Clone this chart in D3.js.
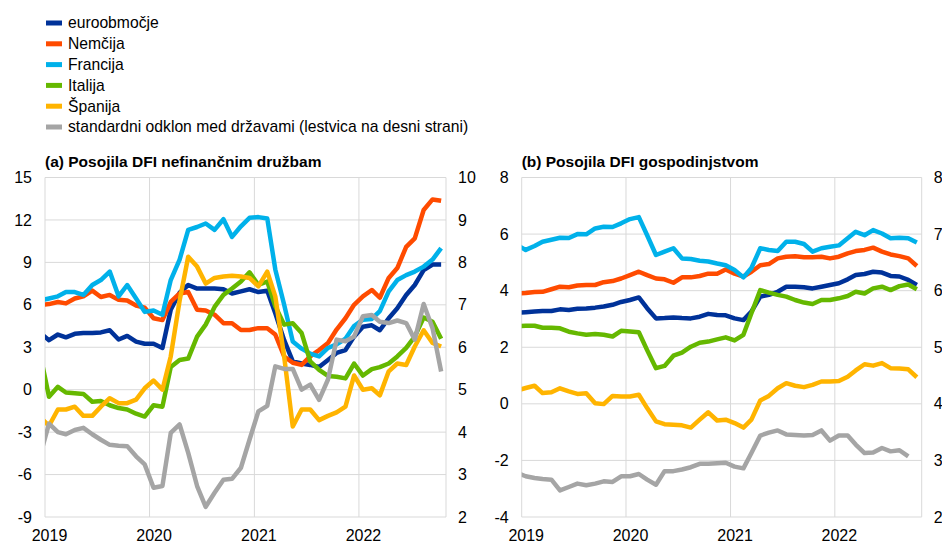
<!DOCTYPE html>
<html>
<head>
<meta charset="utf-8">
<script src="https://cdn.jsdelivr.net/npm/d3@7"></script>
<style>
    body { margin: 0; background: #fff; }
    svg { display: block; font-family: "Liberation Sans", Arial, sans-serif; }
</style>
</head>
<body>
<div id="chart"></div>
<script>
// monthly observations, Dec 2018 .. Oct 2022 (the first one falls just left of the axis)
const months = d3.timeMonth.range(new Date(2018, 11, 1), new Date(2022, 10, 1));
const years = [2019, 2020, 2021, 2022];

const legendLabels = ['euroobmočje', 'Nemčija', 'Francija', 'Italija', 'Španija',
    'standardni odklon med državami (lestvica na desni strani)'];
const colors = ['#003299', '#ff4b00', '#00b1ea', '#65b800', '#ffb400', '#a5a5a5'];

// (a) loans to non-financial corporations, % y/y
const nfcEuro = [4.0, 3.5, 3.9, 3.7, 3.95, 4.0, 4.0, 4.05, 4.2, 3.55, 3.8, 3.4, 3.25, 3.25, 2.95, 5.65,
    6.85, 7.4, 7.15, 7.15, 7.15, 7.1, 6.8, 6.95, 7.1, 6.9, 7.0, 5.4, 3.5, 2.0, 1.85, 1.75, 1.6, 2.1,
    2.6, 2.8, 3.75, 4.45, 4.55, 4.2, 5.05, 5.75, 6.7, 7.4, 8.45, 8.85, 8.85];
const nfcDe = [6.0, 6.05, 6.2, 6.1, 6.45, 6.6, 7.0, 6.55, 6.7, 6.35, 6.3, 5.95, 5.8, 5.05, 4.92, 6.2,
    6.8, 6.9, 5.65, 5.6, 5.3, 4.7, 4.7, 4.22, 4.22, 4.35, 4.35, 3.9, 2.35, 1.9, 1.75, 2.35, 2.8, 3.3,
    4.25, 5.05, 6.0, 6.6, 7.05, 6.5, 7.9, 8.6, 10.1, 10.7, 12.7, 13.45, 13.35];
const nfcFr = [6.3, 6.45, 6.6, 6.9, 6.9, 6.7, 7.4, 7.75, 8.35, 6.6, 7.4, 6.45, 5.5, 5.6, 5.3, 7.75,
    9.2, 11.3, 11.5, 11.75, 11.3, 12.05, 10.8, 11.55, 12.15, 12.2, 12.1, 8.5, 6.0, 3.4, 2.9, 2.55,
    2.35, 2.95, 3.2, 3.6, 4.5, 4.95, 5.0, 5.55, 6.95, 7.75, 8.1, 8.35, 8.7, 9.2, 10.0];
const nfcIt = [2.5, -0.5, 0.2, -0.2, -0.25, -0.3, -0.85, -0.8, -1.1, -1.3, -1.4, -1.7, -1.9, -1.1,
    -1.2, 1.6, 2.1, 2.2, 3.75, 4.6, 5.85, 6.7, 7.15, 7.65, 8.3, 7.4, 7.65, 5.9, 4.6, 4.7, 4.0, 2.0,
    1.4, 0.97, 0.92, 0.8, 1.85, 1.0, 1.45, 1.6, 1.85, 2.35, 2.95, 3.75, 5.1, 4.8, 3.6];
const nfcEs = [-1.95, -2.55, -1.4, -1.4, -1.2, -1.85, -1.85, -1.2, -0.6, -0.95, -0.95, -0.7, 0.1,
    0.65, 0.0, 2.35, 6.3, 9.4, 8.7, 7.5, 7.9, 8.0, 8.05, 8.0, 7.9, 7.3, 8.35, 6.6, 2.35, -2.6, -1.4,
    -1.4, -2.15, -1.85, -1.6, -1.2, 1.0, 0.0, 0.1, -0.4, 1.3, 1.85, 1.75, 3.05, 4.2, 3.3, 3.05];
const nfcStd = [3.45, 4.2, 4.0, 3.95, 4.05, 4.1, 3.95, 3.82, 3.7, 3.68, 3.67, 3.43, 3.24, 2.69, 2.73,
    3.98, 4.18, 3.51, 2.73, 2.24, 2.57, 2.88, 2.9, 3.16, 3.82, 4.49, 4.62, 5.55, 5.49, 5.49, 5.0,
    5.12, 4.76, 5.24, 6.18, 6.14, 6.25, 6.73, 6.76, 6.6, 6.57, 6.63, 6.57, 6.18, 7.02, 6.45, 5.43];

// (b) loans to households, % y/y
const hhEuro = [3.22, 3.24, 3.26, 3.28, 3.28, 3.34, 3.32, 3.36, 3.37, 3.4, 3.44, 3.5, 3.6, 3.67, 3.76,
    3.38, 3.02, 3.03, 3.05, 3.03, 3.02, 3.08, 3.18, 3.14, 3.13, 3.02, 2.96, 3.26, 3.79, 3.85, 3.96,
    4.14, 4.14, 4.12, 4.08, 4.14, 4.2, 4.26, 4.4, 4.55, 4.59, 4.67, 4.64, 4.52, 4.5, 4.38, 4.2];
const hhDe = [3.9, 3.92, 3.95, 3.96, 4.05, 4.14, 4.12, 4.18, 4.2, 4.2, 4.3, 4.34, 4.43, 4.55, 4.67,
    4.55, 4.43, 4.4, 4.28, 4.47, 4.47, 4.52, 4.6, 4.6, 4.75, 4.6, 4.5, 4.67, 4.9, 4.94, 5.14, 5.2,
    5.22, 5.18, 5.18, 5.2, 5.14, 5.2, 5.32, 5.4, 5.44, 5.52, 5.38, 5.28, 5.22, 5.14, 4.87];
const hhFr = [5.62, 5.44, 5.58, 5.73, 5.8, 5.87, 5.86, 6.0, 5.99, 6.2, 6.26, 6.25, 6.38, 6.53, 6.6,
    5.96, 5.26, 5.38, 5.5, 5.14, 5.12, 5.06, 5.03, 4.96, 4.9, 4.73, 4.47, 4.8, 5.5, 5.44, 5.4, 5.73,
    5.73, 5.65, 5.38, 5.5, 5.55, 5.6, 5.85, 6.08, 5.96, 6.14, 6.02, 5.85, 5.87, 5.85, 5.7];
const hhIt = [2.75, 2.76, 2.76, 2.69, 2.69, 2.67, 2.55, 2.49, 2.44, 2.47, 2.44, 2.38, 2.58, 2.56, 2.53,
    1.9, 1.26, 1.34, 1.7, 1.81, 2.02, 2.16, 2.2, 2.28, 2.35, 2.24, 2.44, 3.2, 4.02, 3.93, 3.85, 3.79,
    3.67, 3.58, 3.53, 3.67, 3.67, 3.73, 3.81, 3.96, 3.9, 4.08, 4.14, 4.02, 4.16, 4.22, 4.05];
const hhEs = [0.47, 0.56, 0.64, 0.38, 0.41, 0.55, 0.44, 0.35, 0.37, 0.02, -0.01, 0.28, 0.26, 0.26, 0.32,
    -0.15, -0.62, -0.72, -0.74, -0.76, -0.84, -0.56, -0.3, -0.59, -0.56, -0.68, -0.84, -0.56, 0.12,
    0.28, 0.55, 0.73, 0.64, 0.59, 0.67, 0.79, 0.79, 0.81, 0.96, 1.18, 1.4, 1.35, 1.44, 1.26, 1.25,
    1.22, 0.94];
const hhStd = [2.78, 2.72, 2.69, 2.67, 2.66, 2.47, 2.53, 2.59, 2.56, 2.59, 2.63, 2.62, 2.72, 2.72, 2.76,
    2.66, 2.57, 2.81, 2.81, 2.84, 2.88, 2.94, 2.94, 2.95, 2.96, 2.89, 2.86, 3.13, 3.44, 3.49, 3.53,
    3.46, 3.45, 3.44, 3.45, 3.53, 3.35, 3.44, 3.44, 3.28, 3.13, 3.14, 3.22, 3.16, 3.18, 3.07];

const ticksA = [-9, -6, -3, 0, 3, 6, 9, 12, 15];
const ticksARight = [2, 3, 4, 5, 6, 7, 8, 9, 10];
const ticksB = [-4, -2, 0, 2, 4, 6, 8];
const ticksBRight = [2, 3, 4, 5, 6, 7, 8];

const width = 942;
const height = 553;
const plotTop = 177.5;
const plotBottom = 517;
const gridColor = '#d9d9d9';

const svg = d3.select('#chart')
    .append('svg')
    .attr('width', width)
    .attr('height', height);

// legend
legendLabels.forEach((label, i) => {
    const y = 23 + i * 20.8;
    svg.append('rect')
        .attr('x', 46).attr('y', y - 2.5)
        .attr('width', 16).attr('height', 5)
        .attr('fill', colors[i]);
    svg.append('text')
        .attr('x', 68).attr('y', y)
        .attr('dy', '0.35em')
        .attr('font-size', 15.7)
        .attr('fill', '#000')
        .text(label);
});

const drawPanel = (p) => {
    const x = d3.scaleTime()
        .domain([new Date(2019, 0, 1), new Date(2022, 10, 1)])
        .range([p.left, p.right]);
    const yL = d3.scaleLinear().domain(d3.extent(p.ticks)).range([plotBottom, plotTop]);
    const yR = d3.scaleLinear().domain(d3.extent(p.ticksRight)).range([plotBottom, plotTop]);

    const g = svg.append('g');

    g.append('text')
        .attr('x', p.left).attr('y', 166.5)
        .attr('font-size', 15.5).attr('font-weight', 'bold')
        .text(p.title);

    // grid
    g.append('g').selectAll('line').data(p.ticks).join('line')
        .attr('x1', p.left).attr('x2', p.right)
        .attr('y1', d => yL(d)).attr('y2', d => yL(d))
        .attr('stroke', gridColor).attr('stroke-width', 1);

    const vLines = years.map(yr => new Date(yr, 0, 1)).concat([x.domain()[1]]);
    g.append('g').selectAll('line').data(vLines).join('line')
        .attr('x1', d => x(d)).attr('x2', d => x(d))
        .attr('y1', plotTop).attr('y2', plotBottom)
        .attr('stroke', gridColor).attr('stroke-width', 1);

    // axes
    const plain = d => `${d}`;
    const leftAxis = g.append('g')
        .attr('transform', `translate(${p.left}, 0)`)
        .call(d3.axisLeft(yL).tickValues(p.ticks).tickFormat(plain).tickSize(0).tickPadding(13));
    const rightAxis = g.append('g')
        .attr('transform', `translate(${p.right}, 0)`)
        .call(d3.axisRight(yR).tickValues(p.ticksRight).tickFormat(plain).tickSize(0).tickPadding(12));
    const xAxis = g.append('g')
        .attr('transform', `translate(0, ${plotBottom})`)
        .call(d3.axisBottom(x)
            .tickValues(years.map(yr => new Date(yr, 0, 15)))
            .tickFormat(d3.timeFormat('%Y'))
            .tickSize(0).tickPadding(13));
    [leftAxis, rightAxis, xAxis].forEach(a => {
        a.select('.domain').remove();
        a.selectAll('text').attr('font-size', 16).attr('fill', '#000')
            .attr('font-family', '"Liberation Sans", Arial, sans-serif');
    });

    // lines
    const clipId = `clip-${p.id}`;
    svg.append('clipPath').attr('id', clipId)
        .append('rect')
        .attr('x', p.left).attr('y', plotTop - 20)
        .attr('width', p.right - p.left).attr('height', plotBottom - plotTop + 40);

    const plot = g.append('g').attr('clip-path', `url(#${clipId})`);

    p.series.forEach((values, i) => {
        const yS = i === 5 ? yR : yL;
        const line = d3.line()
            .x((_d, j) => x(d3.timeDay.offset(months[j], 14)))
            .y(d => yS(d));
        plot.append('path')
            .datum(values)
            .attr('d', line)
            .attr('fill', 'none')
            .attr('stroke', colors[i])
            .attr('stroke-width', 4.5)
            .attr('stroke-linejoin', 'round');
    });
};

drawPanel({
    id: 'a',
    title: '(a) Posojila DFI nefinančnim družbam',
    left: 45, right: 446,
    ticks: ticksA, ticksRight: ticksARight,
    series: [nfcEuro, nfcDe, nfcFr, nfcIt, nfcEs, nfcStd]
});

drawPanel({
    id: 'b',
    title: '(b) Posojila DFI gospodinjstvom',
    left: 521.7, right: 921.7,
    ticks: ticksB, ticksRight: ticksBRight,
    series: [hhEuro, hhDe, hhFr, hhIt, hhEs, hhStd]
});
</script>
</body>
</html>
